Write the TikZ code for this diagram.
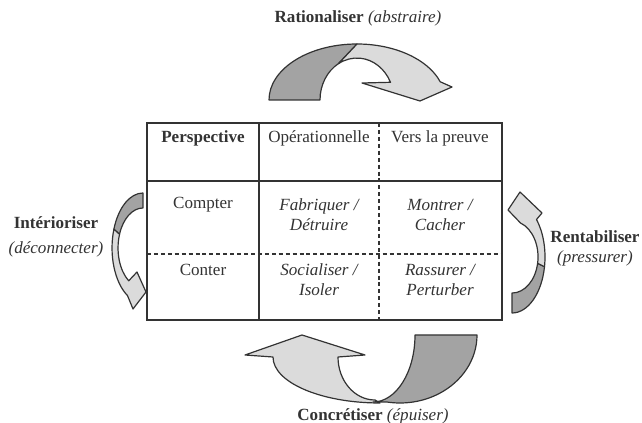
\documentclass[tikz,border=0pt]{standalone}
\usepackage{fontspec}
\setmainfont{Liberation Serif}
\definecolor{arrdark}{gray}{0.64}
\definecolor{arrlight}{gray}{0.86}
\definecolor{inkgray}{gray}{0.2}
\begin{document}
\begin{tikzpicture}[x=0.75pt,y=-0.75pt,
    cell/.style={font=\fontsize{12.8}{15}\selectfont, align=center, inner sep=0pt, text=inkgray},
    cellit/.style={cell, font=\fontsize{12.8}{15}\selectfont\itshape},
    tabline/.style={draw=inkgray, line width=1.1pt},
    arrpart/.style={draw=inkgray, line width=0.9pt, line join=round}]
    \useasboundingbox (0,0) rectangle (642,423);

    % table frame
    \draw[tabline, line width=1.7pt] (147,123) rectangle (502,320);
    \draw[tabline] (147,181) -- (502,181);
    \draw[tabline] (259,123) -- (259,320);
    \draw[tabline, dash pattern=on 3pt off 2.2pt] (379,123) -- (379,320);
    \draw[tabline, dash pattern=on 3pt off 2.2pt] (147,254) -- (502,254);

    % header row
    \foreach \x/\nm/\txt in {203/hdrP/\textbf{Perspective},319/hdrO/Opérationnelle,440/hdrV/Vers la preuve} {
      \node[cell] (\nm) at (\x,138) {\txt};
    }
    % rows
    \node[cell]   (compter) at (203,205) {Compter};
    \node[cellit] (fabr)    at (319,215) {Fabriquer /\\Détruire};
    \node[cellit] (montr)   at (440,215) {Montrer /\\Cacher};
    \node[cell]   (conter)  at (203,270) {Conter};
    \node[cellit] (social)  at (319,280) {Socialiser /\\Isoler};
    \node[cellit] (rassur)  at (440,280) {Rassurer /\\Perturber};

    % top arrow (tail dark, head light)
    \filldraw[arrpart, fill=arrdark] (269,100) arc[start angle=180, end angle=270, x radius=88, y radius=56]
      -- (338.5,63.6) arc[start angle=240, end angle=180, x radius=37, y radius=42] -- cycle;
    \filldraw[arrpart, fill=arrlight] (357,44) arc[start angle=270, end angle=341, x radius=88, y radius=56]
      -- (452,87) -- (420,101) -- (362,83) -- (390.5,82.3)
      arc[start angle=335, end angle=240, x radius=37, y radius=42] -- cycle;

    % right arrow
    \filldraw[arrpart, fill=arrdark] (512,313) arc[start angle=90, end angle=10, x radius=33, y radius=56]
      -- (537.6,263.3) arc[start angle=10, end angle=90, x radius=26, y radius=36] -- cycle;
    \filldraw[arrpart, fill=arrlight] (544.5,266.7) arc[start angle=10, end angle=-42, x radius=33, y radius=56]
      -- (542,213) -- (520,192) -- (508,210) -- (520.5,223)
      arc[start angle=-71, end angle=10, x radius=26, y radius=36] -- cycle;

    % left arrow
    \filldraw[arrpart, fill=arrdark] (143,193) arc[start angle=270, end angle=200, x radius=31, y radius=55]
      -- (119.5,234.3) arc[start angle=200, end angle=270, x radius=25, y radius=40] -- cycle;
    \filldraw[arrpart, fill=arrlight] (113.9,229.2) arc[start angle=200, end angle=120, x radius=31, y radius=55]
      -- (133,309) -- (146,292) -- (137,272) -- (128.7,280.8)
      arc[start angle=125, end angle=200, x radius=25, y radius=40] -- cycle;

    % bottom arrow
    \filldraw[arrpart, fill=arrlight] (375,400) arc[start angle=90, end angle=180, x radius=37, y radius=43]
      -- (365,355) -- (302,335) -- (245,355) -- (273,357)
      arc[start angle=180, end angle=90, x radius=107, y radius=46] -- cycle;
    \filldraw[arrpart, fill=arrdark] (415,335) -- (477,335) arc[start angle=0, end angle=100, x radius=77, y radius=68]
      -- (373,402) arc[start angle=90, end angle=0, x radius=42, y radius=67] -- cycle;

    % labels
    \node[cell] (ratio) at (358,18) {\textbf{Rationaliser} \textit{(abstraire)}};
    \node[cell, font=\fontsize{12.8}{18.8}\selectfont] (inter) at (56,237) {\textbf{Intérioriser}\\\textit{(déconnecter)}};
    \node[cell] (renta) at (595,248) {\textbf{Rentabiliser}\\\textit{(pressurer)}};
    \node[cell] (concr) at (373,416) {\textbf{Concrétiser} \textit{(épuiser)}};
\end{tikzpicture}
\end{document}
